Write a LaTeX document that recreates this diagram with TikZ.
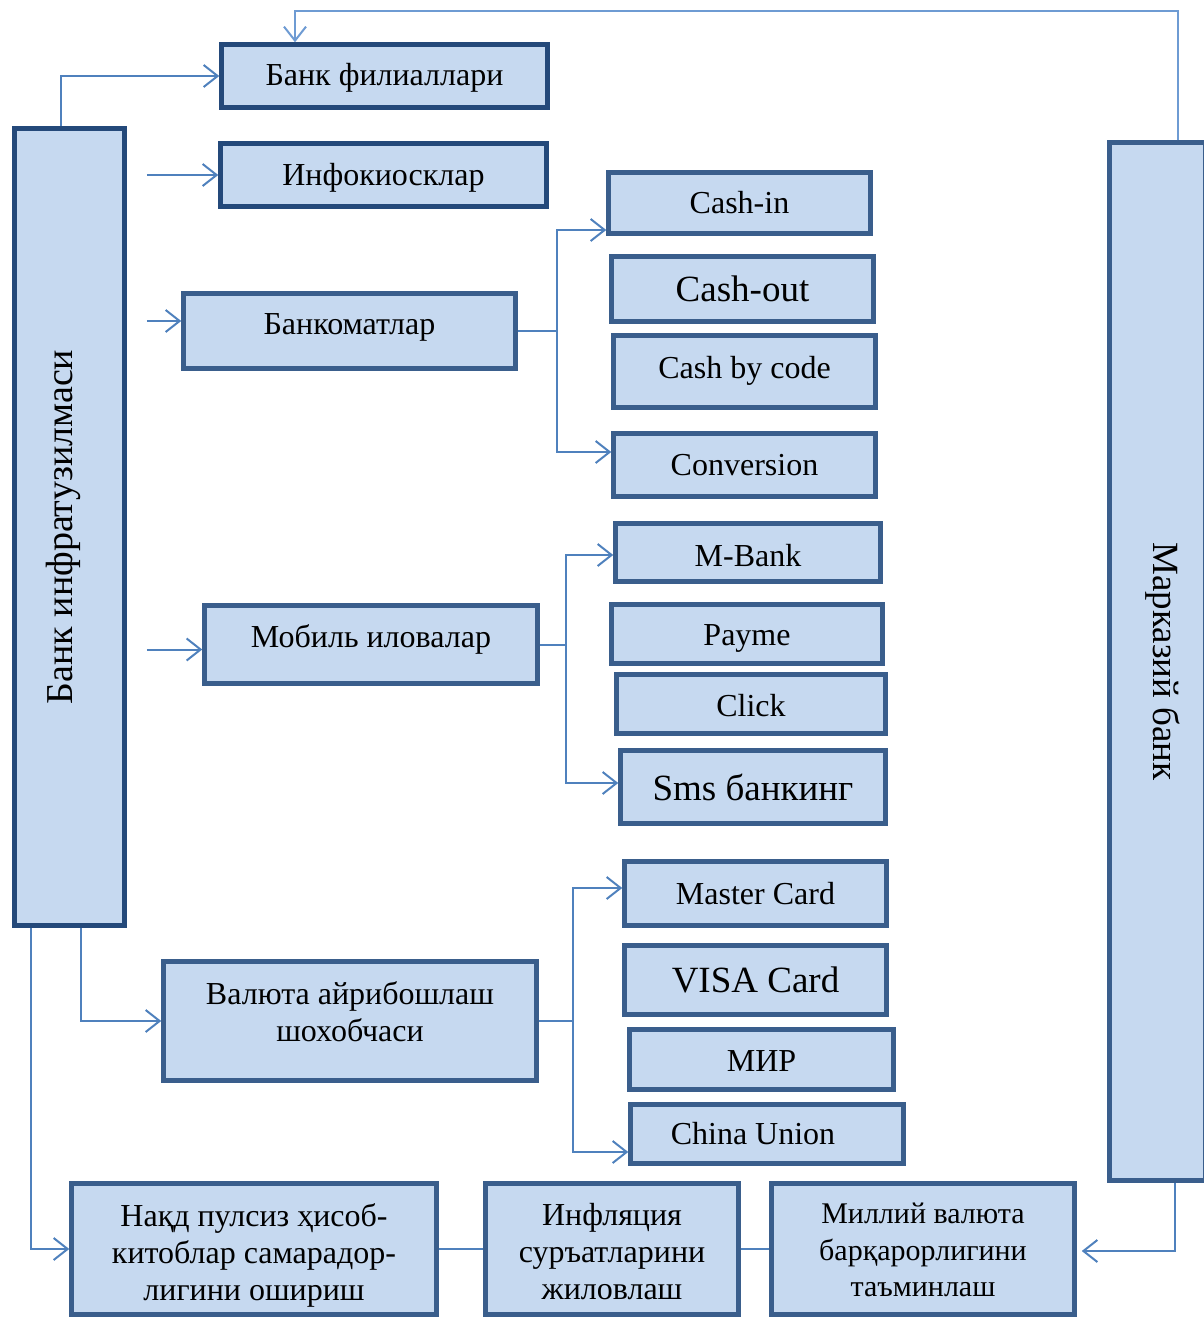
\documentclass[tikz,border=0pt]{standalone}
\usepackage{fontspec}
\usepackage{graphicx}
\setmainfont{Liberation Serif}
\usetikzlibrary{arrows.meta,calc}
\definecolor{boxfill}{HTML}{C6D9F0}
\definecolor{edgeA}{HTML}{24497A}
\definecolor{edgeB}{HTML}{3A5E8C}
\definecolor{wire}{HTML}{4F81BD}
\definecolor{wirelight}{HTML}{6E9BD3}
\newcommand\liftone[2]{\raisebox{#1}[\height][\depth]{#2}}
\newcommand\liftmany[2]{\raisebox{#1}[\height][\depth]{\begin{tabular}{@{}c@{}}#2\end{tabular}}}
\begin{document}
\begin{tikzpicture}[x=1pt,y=-1pt,
  box/.style={draw=edgeB, fill=boxfill, line width=4.5pt, inner sep=0pt, align=center,
    font=\fontsize{32}{37}\selectfont},
  darkbox/.style={draw=edgeA},
  bigtext/.style={font=\fontsize{37}{42}\selectfont},
  wireline/.style={draw=wire, line width=2pt},
  conn/.style={wireline, -{Straight Barb[length=14pt,width=22pt]}},
]
\useasboundingbox (0,0) rectangle (1203,1317);

% left column
\node[box, darkbox, minimum width=110, minimum height=797] (infra) at (69.5,527)
  {\rotatebox{90}{\liftone{6pt}{\fontsize{38}{42}\selectfont Банк инфратузилмаси}}};
\node[box, darkbox, minimum width=326, minimum height=63] (filial) at (384.5,76) {\liftone{-2pt}{Банк филиаллари}};
\node[box, darkbox, minimum width=326, minimum height=63] (info) at (383.5,175) {\liftone{-3pt}{Инфокиосклар}};
\node[box, minimum width=332, minimum height=75] (atm) at (349.5,331) {\liftone{4pt}{Банкоматлар}};
\node[box, minimum width=333, minimum height=78] (mob) at (371,644.5) {\liftone{5pt}{Мобиль иловалар}};
\node[box, minimum width=373, minimum height=119] (valuta) at (350,1021)
  {\liftmany{5pt}{Валюта айрибошлаш\\шохобчаси}};

% ATM services
\node[box, minimum width=262, minimum height=61] (cashin) at (739.5,203) {Cash-in};
\node[box, bigtext, minimum width=262, minimum height=65] (cashout) at (742.5,289) {Cash-out};
\node[box, minimum width=262, minimum height=72] (bycode) at (744.5,371.5) {\liftone{1pt}{Cash by code}};
\node[box, minimum width=262, minimum height=63] (conv) at (744.5,465) {Conversion};

% mobile apps
\node[box, minimum width=265, minimum height=58] (mbank) at (748,552.5) {\liftone{-3pt}{M-Bank}};
\node[box, minimum width=271, minimum height=59] (payme) at (747,634) {\liftone{-4pt}{Payme}};
\node[box, minimum width=269, minimum height=59] (click) at (751,704) {\liftone{-2pt}{Click}};
\node[box, bigtext, minimum width=265, minimum height=73] (sms) at (753,787) {Sms банкинг};

% cards
\node[box, minimum width=262, minimum height=64] (master) at (755.5,893.5) {Master Card};
\node[box, bigtext, minimum width=262, minimum height=69] (visa) at (755.5,980) {VISA Card};
\node[box, minimum width=264, minimum height=60] (mir) at (761.5,1059.5) {\liftone{-2pt}{МИР}};
\node[box, minimum width=273, minimum height=59] (china) at (767,1134) {\hspace*{-28pt}China Union};

% bottom row
\node[box, minimum width=365, minimum height=131] (nakd) at (254,1249)
  {\liftmany{-7pt}{Нақд пулсиз ҳисоб-\\китоблар самарадор-\\лигини ошириш}};
\node[box, minimum width=253, minimum height=131] (infl) at (612,1249)
  {\liftmany{-6pt}{Инфляция\\суръатларини\\жиловлаш}};
\node[box, minimum width=303, minimum height=131, font=\fontsize{30}{36.5}\selectfont] (milliy) at (923,1249)
  {\liftmany{-4pt}{Миллий валюта\\барқарорлигини\\таъминлаш}};

% central bank
\node[box, minimum width=96, minimum height=1038] (markaz) at (1157.5,661.5)
  {\rotatebox{-90}{\liftone{5pt}{\fontsize{37}{41}\selectfont Марказий банк}}};

% coordinates
\coordinate (t1) at (1178,11);
\coordinate (t2) at (295,11);
\coordinate (u1) at (61,75);
\coordinate (d1) at (81,1026);
\coordinate (d2) at (31,1244);
\coordinate (b1) at (557,230);
\coordinate (b2) at (557,452);
\coordinate (m1) at (566,555);
\coordinate (m2) at (566,783);
\coordinate (v1) at (573,888);
\coordinate (v2) at (573,1152);
\coordinate (r1) at (1175,1251);

% connectors
\draw[conn, draw=wirelight] (markaz.north -| t1) -- (t1) -- (t2) -- (t2 |- filial.north);
\draw[conn] (infra.north -| u1) |- (filial.west);
\draw[conn] ($(infra.east |- info.west)+(20,0)$) -- (info.west);
\draw[conn] ($(infra.east |- atm.west)+(20,-10)$) -- ($(atm.west)+(0,-10)$);
\draw[conn] ($(infra.east |- mob.west)+(20,5)$) -- ($(mob.west)+(0,5)$);
\draw[conn] (infra.south -| d1) |- (valuta.west);
\draw[conn] (infra.south -| d2) |- (nakd.west);

\draw[wireline] (atm.east) -- (atm.east -| b1);
\draw[conn] (atm.east -| b1) -- (b1) -- (b1 -| cashin.west);
\draw[conn] (atm.east -| b1) -- (b2) -- (b2 -| conv.west);

\draw[wireline] (mob.east) -- (mob.east -| m1);
\draw[conn] (mob.east -| m1) -- (m1) -- (m1 -| mbank.west);
\draw[conn] (mob.east -| m1) -- (m2) -- (m2 -| sms.west);

\draw[wireline] (valuta.east) -- (valuta.east -| v1);
\draw[conn] (valuta.east -| v1) -- (v1) -- (v1 -| master.west);
\draw[conn] (valuta.east -| v1) -- (v2) -- (v2 -| china.west);

\draw[wireline] (nakd.east) -- (infl.west);
\draw[wireline] (infl.east) -- (milliy.west);
\draw[conn] (markaz.south -| r1) -- (r1) -- ($(r1 -| milliy.east)+(5,0)$);
\end{tikzpicture}
\end{document}
